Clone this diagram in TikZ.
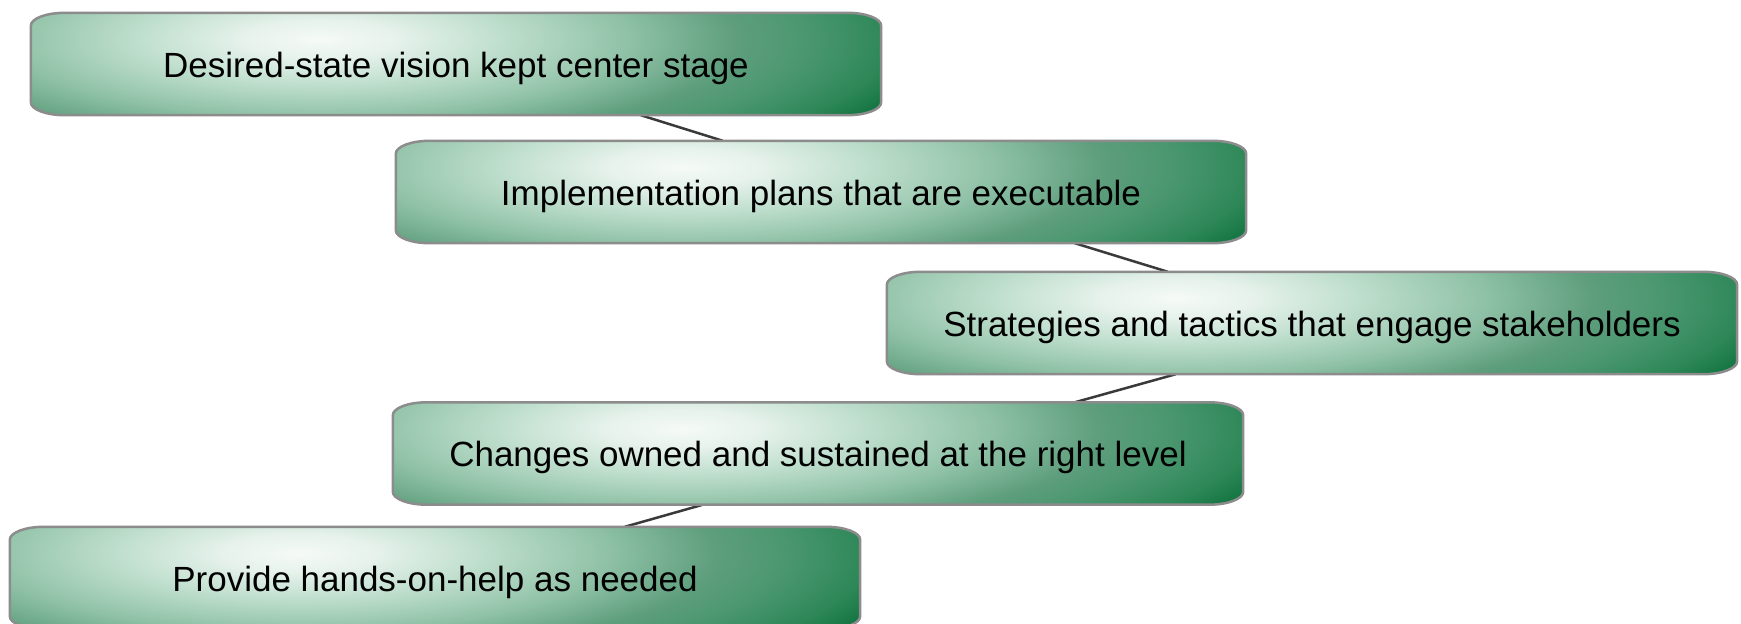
\documentclass[tikz,border=0pt]{standalone}
\usepackage{fontspec}
\setmainfont{Liberation Sans}
\usetikzlibrary{calc}
\definecolor{gA}{HTML}{F6FAF7}
\definecolor{gB}{HTML}{E6F2EB}
\definecolor{gC}{HTML}{C0DFCE}
\definecolor{gD}{HTML}{90C2A7}
\definecolor{gE}{HTML}{5E9E7D}
\definecolor{gF}{HTML}{4B9770}
\definecolor{gG}{HTML}{2D8757}
\definecolor{gH}{HTML}{0A6E3A}
\definecolor{boxgray}{HTML}{8C8C8C}
\definecolor{linkgray}{HTML}{3A3A3A}
\pgfdeclareradialshading{greenglow}{\pgfpoint{0bp}{0bp}}{color(0bp)=(gA); color(3bp)=(gB); color(7bp)=(gC); color(12bp)=(gD); color(16.3bp)=(gE); color(19bp)=(gF); color(22.3bp)=(gG); color(25bp)=(gH); color(50bp)=(gH)}
\pgfdeclarelayer{bg}
\pgfsetlayers{bg,main}
\newcommand\greenbox[1]{%
\path[boxline, path picture={\shade[shading=greenglow] ($(#1.north west)+(-351,-133.5)$) rectangle ($(#1.north west)+(929,186.5)$);}]
 ($(#1.north west)+(0,13)$) .. controls ($(#1.north west)+(0,5.8)$) and ($(#1.north west)+(15.2,0)$) .. ($(#1.north west)+(34,0)$)
 -- ($(#1.north east)+(-34,0)$) .. controls ($(#1.north east)+(-15.2,0)$) and ($(#1.north east)+(0,5.8)$) .. ($(#1.north east)+(0,13)$)
 -- ($(#1.south east)+(0,-13)$) .. controls ($(#1.south east)+(0,-5.8)$) and ($(#1.south east)+(-15.2,0)$) .. ($(#1.south east)+(-34,0)$)
 -- ($(#1.south west)+(34,0)$) .. controls ($(#1.south west)+(15.2,0)$) and ($(#1.south west)+(0,-5.8)$) .. ($(#1.south west)+(0,-13)$)
 -- cycle;}
\begin{document}
\begin{tikzpicture}[x=1pt,y=-1pt,
  boxtext/.style={minimum width=850pt, minimum height=102pt, inner sep=0pt, text height=26.6pt, text depth=0pt, font=\fontsize{35}{42}\selectfont, text=black},
  boxline/.style={draw=boxgray, line width=2.5pt},
  link/.style={draw=linkgray, line width=2.5pt}]
\useasboundingbox (0,0) rectangle (1741,624);
\node[boxtext] (b1) at (456,64) {Desired-state vision kept center stage};
\node[boxtext] (b2) at (821,192) {Implementation plans that are executable};
\node[boxtext] (b3) at (1312,323) {Strategies and tactics that engage stakeholders};
\node[boxtext] (b4) at (818,453.5) {Changes owned and sustained at the right level};
\node[boxtext] (b5) at (435,578) {Provide hands-on-help as needed};
\begin{pgfonlayer}{bg}
\fill[white] (0,0) rectangle (1741,624);
\draw[link] ($(b1.south west)+(610,0)$) -- ($(b2.north west)+(327,0)$);
\draw[link] ($(b2.south west)+(679,0)$) -- ($(b3.north west)+(281,0)$);
\draw[link] ($(b3.south west)+(289,0)$) -- ($(b4.north west)+(682,0)$);
\draw[link] ($(b4.south west)+(310,0)$) -- ($(b5.north west)+(615,0)$);
\greenbox{b1}
\greenbox{b2}
\greenbox{b3}
\greenbox{b4}
\greenbox{b5}
\end{pgfonlayer}
\end{tikzpicture}
\end{document}
